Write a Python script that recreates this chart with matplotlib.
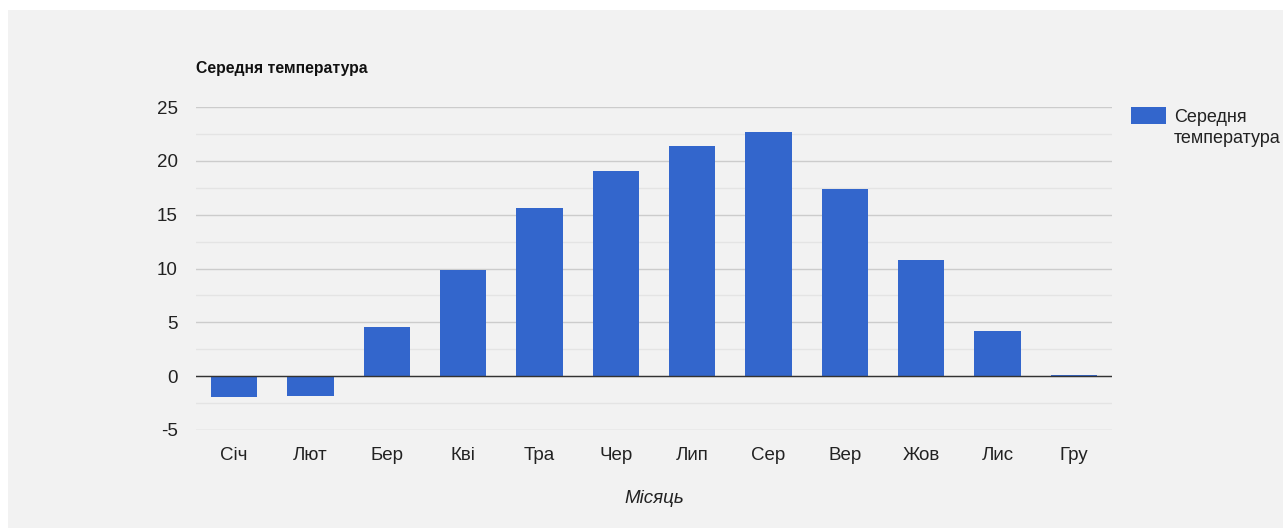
import numpy as np
import matplotlib.pyplot as plt
from matplotlib.patches import Rectangle

plt.rcParams['font.family'] = ['Liberation Sans', 'DejaVu Sans']

months = ['Січ', 'Лют', 'Бер', 'Кві', 'Тра', 'Чер', 'Лип', 'Сер', 'Вер', 'Жов', 'Лис', 'Гру']
avg_temp = [-1.9, -1.8, 4.6, 9.9, 15.6, 19.1, 21.4, 22.7, 17.4, 10.8, 4.2, 0.15]
y_ticks = [-5, 0, 5, 10, 15, 20, 25]

W, H = 1283, 528
fig = plt.figure(figsize=(W / 100, H / 100), dpi=100, facecolor='#f2f2f2')

# white strips at top and left of the screenshot
fig.patches.append(Rectangle((0, 1 - 10 / H), 1, 10 / H, transform=fig.transFigure,
                             facecolor='white', edgecolor='none'))
fig.patches.append(Rectangle((0, 0), 8 / W, 1, transform=fig.transFigure,
                             facecolor='white', edgecolor='none'))

ax = fig.add_axes([196 / W, 1 - 430 / H, (1112 - 196) / W, (430 - 107) / H])
ax.set_zorder(2)
ax.patch.set_alpha(0)

x = np.arange(len(months))
ax.bar(x, avg_temp, width=0.61, color='#3366cc', zorder=3)

ax.set_xlim(-0.5, len(months) - 0.5)
ax.set_ylim(-5, 25)
ax.set_yticks(y_ticks)
ax.set_yticks(np.arange(-2.5, 25, 5), minor=True)
ax.set_yticklabels([str(v) for v in y_ticks], fontsize=13.5, color='#222222')
ax.set_xticks(x)
ax.set_xticklabels(months, fontsize=13.5, color='#222222')
ax.tick_params(axis='both', which='both', length=0)
ax.tick_params(axis='y', pad=13)
ax.tick_params(axis='x', pad=12)

ax.grid(True, axis='y', which='major', color='#cccccc', linewidth=1, zorder=0)
ax.grid(True, axis='y', which='minor', color='#e4e4e4', linewidth=1, zorder=0)
ax.axhline(0, color='#333333', linewidth=1, zorder=4)
for s in ax.spines.values():
    s.set_visible(False)

ax.set_xlabel('Місяць', fontsize=13.5, style='italic', color='#222222', labelpad=19)

fig.text(196 / W, 1 - 69 / H, 'Середня температура', fontsize=11.3, fontweight='bold',
         color='#111111', va='center', ha='left')

# legend
fig.patches.append(Rectangle((1131 / W, 1 - 124 / H), 35 / W, 17 / H, transform=fig.transFigure,
                             facecolor='#3366cc', edgecolor='none'))
fig.text(1174 / W, 1 - 117 / H, 'Середня', fontsize=13, color='#222222', va='center')
fig.text(1174 / W, 1 - 139 / H, 'температура', fontsize=13, color='#222222', va='center')

fig.savefig('out.png', dpi=100, facecolor=fig.get_facecolor())
